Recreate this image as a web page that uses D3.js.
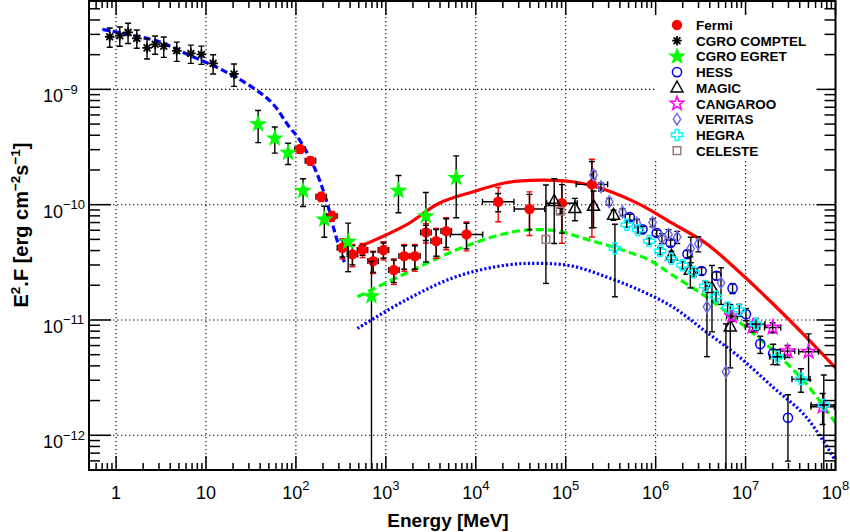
<!DOCTYPE html>
<html>
<head>
<meta charset="utf-8">
<script src="https://cdn.jsdelivr.net/npm/d3@7"></script>
<style>
body { margin: 0; background: #fff; }
text { font-family: "Liberation Sans", Arial, Helvetica, sans-serif; }
</style>
</head>
<body>
<div id="wrapper"></div>
<script>
// ---- data (energy in MeV, E^2.F in erg cm^-2 s^-1) ----
const fermiE = [111, 145, 191, 251, 329, 425, 550, 722, 940, 1227, 1599, 2102, 2786, 3627, 4688, 7882, 17750, 39550, 90800, 195500];
const fermiF = [3.03e-10, 2.40e-10, 1.17e-10, 7.96e-11, 4.23e-11, 3.71e-11, 4.04e-11, 3.24e-11, 4.04e-11, 2.71e-11, 3.58e-11, 3.58e-11, 5.75e-11, 4.83e-11, 5.90e-11, 5.52e-11, 1.06e-10, 9.16e-11, 1.03e-10, 1.50e-10];
const fermiStat = [0.05, 0.05, 0.06, 0.07, 0.17, 0.19, 0.1, 0.2, 0.15, 0.22, 0.23, 0.23, 0.15, 0.26, 0.28, 0.25, 0.18, 0.34, 0.45, 0.58];
const fermiSys = [0.08, 0.08, 0.09, 0.1, 0.2, 0.22, 0.14, 0.22, 0.18, 0.25, 0.26, 0.26, 0.19, 0.29, 0.31, 0.28, 0.33, 0.41, 0.55, 0.65];
const fermiBin = [0.058, 0.058, 0.058, 0.058, 0.058, 0.058, 0.058, 0.058, 0.058, 0.058, 0.058, 0.058, 0.058, 0.058, 0.058, 0.18, 0.175, 0.17, 0.17, 0.175];

const comptelE = [0.85, 1.10, 1.36, 1.70, 2.21, 2.72, 3.39, 4.73, 6.78, 8.89, 12.0, 20.5];
const comptelF = [2.86e-9, 2.92e-9, 3.12e-9, 2.77e-9, 2.29e-9, 2.46e-9, 2.37e-9, 2.16e-9, 2.05e-9, 2.01e-9, 1.68e-9, 1.36e-9];
const comptelErr = [0.19, 0.19, 0.2, 0.18, 0.2, 0.18, 0.2, 0.19, 0.18, 0.18, 0.19, 0.22];

const egretE = [38.0, 58.2, 81.9, 120, 207, 381, 692, 1381, 2786, 6054];
const egretF = [5.0e-10, 3.76e-10, 2.82e-10, 1.32e-10, 7.45e-11, 4.77e-11, 1.61e-11, 1.32e-10, 7.96e-11, 1.71e-10];
const egretErr = [0.31, 0.255, 0.21, 0.27, 0.3, 0.45, 1.0, 0.355, 0.6, 0.55];

const hessE = [5.15e5, 7.14e5, 1.028e6, 1.465e6, 2.26e6, 3.24e6, 4.76e6, 7.17e6, 1.01e7, 1.456e7, 2.03e7, 2.96e7];
const hessF = [7.80e-11, 6.11e-11, 5.68e-11, 4.65e-11, 3.73e-11, 2.66e-11, 2.42e-11, 1.88e-11, 1.12e-11, 6.18e-12, 5.13e-12, 1.42e-12];
const hessErr = [0.06, 0.06, 0.06, 0.06, 0.07, 0.07, 0.08, 0.1, 0.12, 0.17, 0.2, 0.58];

const magicE = [74500, 126600, 203900, 340500, 1.50e6, 2.43e6, 4.23e6, 6.76e6];
const magicF = [1.07e-10, 9.29e-11, 9.72e-11, 8.13e-11, 3.58e-11, 2.71e-11, 1.88e-11, 8.73e-12];
const magicErr = [0.57, 0.22, 0.35, 0.1, 0.1, 0.3, 0.58, 0.56];

const cangarooE = [7.06e6, 1.197e7, 2.0e7, 2.93e7, 5.02e7, 7.19e7];
const cangarooF = [1.08e-11, 8.73e-12, 8.6e-12, 5.37e-12, 5.30e-12, 1.77e-12];
const cangarooErr = [0.1, 0.1, 0.1, 0.12, 0.43, 0.3];
const cangarooBin = [0.06, 0.08, 0.09, 0.08, 0.11, 0.13];

const veritasE = [2.039e5, 2.465e5, 3.048e5, 4.284e5, 6.19e5, 9.24e5, 1.175e6, 1.39e6, 1.74e6, 2.46e6, 2.98e6, 3.72e6, 5.33e6, 6.05e6];
const veritasF = [1.81e-10, 1.43e-10, 1.06e-10, 8.63e-11, 6.92e-11, 7.0e-11, 5.1e-11, 5.52e-11, 5.24e-11, 4.18e-11, 4.58e-11, 1.30e-11, 2.10e-11, 3.56e-12];
const veritasErr = [0.08, 0.08, 0.07, 0.07, 0.08, 0.08, 0.1, 0.1, 0.12, 0.25, 0.15, 0.63, 0.35, [1, 1.6]];

const hegraE = [3.526e5, 4.77e5, 6.35e5, 8.49e5, 1.125e6, 1.491e6, 1.99e6, 2.65e6, 3.56e6, 4.69e6, 6.31e6, 8.5e6, 1.306e7, 2.25e7, 4.13e7, 7.41e7];
const hegraF = [4.18e-11, 6.70e-11, 6.03e-11, 4.83e-11, 3.96e-11, 3.40e-11, 2.99e-11, 2.59e-11, 1.97e-11, 1.59e-11, 1.28e-11, 1.22e-11, 9.21e-12, 4.80e-12, 3.07e-12, 1.83e-12];
const hegraErr = [0.62, 0.05, 0.06, 0.06, 0.07, 0.07, 0.07, 0.08, 0.1, 0.1, 0.1, 0.12, 0.12, 0.15, 0.23, [1, 0.82]];
const hegraBin = [0, 0, 0, 0, 0, 0, 0, 0, 0, 0, 0, 0, 0.1, 0.083, 0.1, 0.14];

const celesteE = [60250, 86900];
const celesteF = [5.0e-11, 8.8e-11];
const celesteErr = [[0.585, 1.96], 0.06];

// model curves
const syncE = [0.705, 1.175, 3.01, 6.49, 14.0, 32.8, 54.8, 84.0, 104, 146.6, 189, 234, 266, 302, 352];
const syncF = [3.31e-9, 3.06e-9, 2.59e-9, 1.98e-9, 1.52e-9, 1.04e-9, 7.57e-10, 4.74e-10, 3.88e-10, 2.44e-10, 1.53e-10, 8.97e-11, 6.03e-11, 4.32e-11, 3.05e-11];
const icRedE = [500, 1669, 3917, 9190, 21600, 50700, 119000, 280000, 657000, 1.54e6, 3.63e6, 8.46e6, 2.0e7, 4.69e7, 1e8];
const icRedF = [4.3e-11, 6.65e-11, 1.03e-10, 1.29e-10, 1.55e-10, 1.63e-10, 1.58e-10, 1.34e-10, 1.01e-10, 6.88e-11, 4.62e-11, 2.62e-11, 1.39e-11, 7.15e-12, 3.85e-12];
const icGreenE = [483, 1669, 6010, 18200, 36100, 77800, 182500, 428000, 849000, 1.54e6, 3.63e6, 8.46e6, 2.0e7, 4.69e7, 1e8];
const icGreenF = [1.59e-11, 2.54e-11, 4.04e-11, 5.45e-11, 6.02e-11, 5.94e-11, 4.93e-11, 4.04e-11, 3.31e-11, 2.45e-11, 1.59e-11, 9.65e-12, 5.48e-12, 2.82e-12, 1.28e-12];
const icBlueE = [483, 1669, 6010, 21600, 50700, 119000, 280000, 657000, 1.54e6, 3.63e6, 8.46e6, 2.0e7, 4.69e7, 1e8];
const icBlueF = [8.45e-12, 1.49e-11, 2.37e-11, 2.99e-11, 3.10e-11, 2.93e-11, 2.37e-11, 1.82e-11, 1.30e-11, 7.90e-12, 4.80e-12, 2.63e-12, 1.45e-12, 6.0e-13];

const xDecades = [0, 1, 2, 3, 4, 5, 6, 7, 8];
const yDecades = [-12, -11, -10, -9];

// ---- layout ----
const dim = { width: 850, height: 532, left: 89, right: 835.5, top: 1, bottom: 470 };

const svg = d3.select("#wrapper").append("svg")
    .attr("width", dim.width)
    .attr("height", dim.height);

const x = d3.scaleLog().domain([0.5, 1e8]).range([dim.left, dim.right]);
const y = d3.scaleLog().domain([5e-13, 5.84e-9]).range([dim.bottom, dim.top]);

svg.append("defs").append("clipPath").attr("id", "plotclip")
    .append("rect")
    .attr("x", dim.left).attr("y", dim.top)
    .attr("width", dim.right - dim.left).attr("height", dim.bottom - dim.top);

// grid
const grid = svg.append("g").attr("stroke", "#000").attr("stroke-width", 1.1).attr("stroke-dasharray", "1.3,2.7");
xDecades.filter(d => d < 8).forEach(d => {
    grid.append("line")
        .attr("x1", x(Math.pow(10, d))).attr("x2", x(Math.pow(10, d)))
        .attr("y1", dim.top).attr("y2", dim.bottom);
});
yDecades.forEach(d => {
    grid.append("line")
        .attr("x1", dim.left).attr("x2", dim.right)
        .attr("y1", y(Math.pow(10, d))).attr("y2", y(Math.pow(10, d)));
});

// model curves
const curves = svg.append("g").attr("clip-path", "url(#plotclip)").attr("fill", "none");
const line = d3.line().x(d => x(d[0])).y(d => y(d[1])).curve(d3.curveCatmullRom);
const model = [
    { E: syncE, F: syncF, color: "#0000ff", dash: "7,3.5" },
    { E: icRedE, F: icRedF, color: "#ff0000", dash: null },
    { E: icGreenE, F: icGreenF, color: "#00ff00", dash: "8,4" },
    { E: icBlueE, F: icBlueF, color: "#0000ff", dash: "2.2,2.2" }
];
model.forEach(m => {
    curves.append("path")
        .attr("d", line(m.E.map((e, i) => [e, m.F[i]])))
        .attr("stroke", m.color)
        .attr("stroke-width", 3.2)
        .attr("stroke-dasharray", m.dash);
});

// marker shapes
function star(R, r) {
    let p = [];
    for (let k = 0; k < 10; k++) {
        const a = -Math.PI / 2 + k * Math.PI / 5;
        const rr = k % 2 === 0 ? R : r;
        p.push([rr * Math.cos(a), rr * Math.sin(a)]);
    }
    return "M" + p.map(q => q[0].toFixed(2) + "," + q[1].toFixed(2)).join("L") + "Z";
}
const shapes = {
    circle: "M5.2,0A5.2,5.2 0 1,1 -5.2,0A5.2,5.2 0 1,1 5.2,0Z",
    ocircle: "M4.6,0A4.6,4.6 0 1,1 -4.6,0A4.6,4.6 0 1,1 4.6,0Z",
    asterisk: "M-4.8,0H4.8M0,-4.8V4.8M-3.4,-3.4L3.4,3.4M-3.4,3.4L3.4,-3.4",
    star: star(7.2, 2.9),
    triangle: "M0,-6.8L6,4.2L-6,4.2Z",
    diamond: "M0,-5.8L3.7,0L0,5.8L-3.7,0Z",
    cross: "M-1.8,-5.5H1.8V-1.8H5.5V1.8H1.8V5.5H-1.8V1.8H-5.5V-1.8H-1.8Z",
    square: "M-3.8,-3.8H3.8V3.8H-3.8Z"
};

const series = [
    { name: "Fermi", E: fermiE, F: fermiF, err: fermiStat, sys: fermiSys, bin: fermiBin, shape: "circle", color: "#ff0000", fill: true },
    { name: "CGRO COMPTEL", E: comptelE, F: comptelF, err: comptelErr, shape: "asterisk", color: "#000000", fill: false },
    { name: "CGRO EGRET", E: egretE, F: egretF, err: egretErr, shape: "star", color: "#00ff00", fill: true },
    { name: "HESS", E: hessE, F: hessF, err: hessErr, shape: "ocircle", color: "#0000ff", fill: false },
    { name: "MAGIC", E: magicE, F: magicF, err: magicErr, shape: "triangle", color: "#000000", fill: false },
    { name: "CANGAROO", E: cangarooE, F: cangarooF, err: cangarooErr, bin: cangarooBin, shape: "star", color: "#ff00ff", fill: false },
    { name: "VERITAS", E: veritasE, F: veritasF, err: veritasErr, shape: "diamond", color: "#6f6fee", fill: false },
    { name: "HEGRA", E: hegraE, F: hegraF, err: hegraErr, bin: hegraBin, shape: "cross", color: "#00ffff", fill: false },
    { name: "CELESTE", E: celesteE, F: celesteF, err: celesteErr, shape: "square", color: "#a07878", fill: false }
];

const cap = 3;
function vBar(g, e, f, er, color) {
    const lo = Array.isArray(er) ? er[0] : er;
    const hi = Array.isArray(er) ? er[1] : er;
    const px = x(e);
    const top = y(f * (1 + hi));
    const low = f * (1 - lo);
    const bot = low > 5e-13 ? y(low) : dim.bottom;
    g.append("line").attr("x1", px).attr("x2", px).attr("y1", top).attr("y2", bot).attr("stroke", color);
    g.append("line").attr("x1", px - cap).attr("x2", px + cap).attr("y1", top).attr("y2", top).attr("stroke", color);
    if (low > 5e-13) {
        g.append("line").attr("x1", px - cap).attr("x2", px + cap).attr("y1", bot).attr("y2", bot).attr("stroke", color);
    }
}
function hBar(g, e, f, b) {
    if (!b) return;
    const py = y(f);
    const x0 = x(e / Math.pow(10, b)), x1 = x(e * Math.pow(10, b));
    g.append("line").attr("x1", x0).attr("x2", x1).attr("y1", py).attr("y2", py).attr("stroke", "#000");
    [x0, x1].forEach(xx => {
        g.append("line").attr("x1", xx).attr("x2", xx).attr("y1", py - cap).attr("y2", py + cap).attr("stroke", "#000");
    });
}

const points = svg.append("g").attr("clip-path", "url(#plotclip)");
series.forEach(s => {
    const g = points.append("g").attr("stroke-width", 1.4);
    s.E.forEach((e, i) => {
        if (s.sys) vBar(g, e, s.F[i], s.sys[i], "#ff0000");
        vBar(g, e, s.F[i], s.err[i], "#000");
        if (s.bin) hBar(g, e, s.F[i], s.bin[i]);
    });
    g.selectAll("path.mk")
        .data(s.E.map((e, i) => [e, s.F[i]]))
        .enter()
        .append("path")
        .attr("class", "mk")
        .attr("d", shapes[s.shape])
        .attr("transform", d => `translate(${x(d[0])},${y(d[1])})`)
        .attr("fill", s.fill ? s.color : "none")
        .attr("stroke", s.fill && s.shape === "circle" ? "none" : s.color)
        .attr("stroke-width", s.shape === "asterisk" ? 1.8 : 1.5);
});

// legend
const legend = svg.append("g");
legend.append("rect")
    .attr("x", 655).attr("y", 7).attr("width", 172).attr("height", 153)
    .attr("fill", "#fff");
series.forEach((s, i) => {
    const ly = 25 + i * 15.7;
    legend.append("path")
        .attr("d", shapes[s.shape])
        .attr("transform", `translate(677,${ly})`)
        .attr("fill", s.fill ? s.color : "none")
        .attr("stroke", s.fill && s.shape === "circle" ? "none" : s.color)
        .attr("stroke-width", s.shape === "asterisk" ? 1.8 : 1.5);
    legend.append("text")
        .attr("x", 696).attr("y", ly + 5)
        .attr("font-size", 13.5).attr("font-weight", "bold")
        .text(s.name);
});

// frame and ticks
const axes = svg.append("g").attr("stroke", "#000");
axes.append("rect")
    .attr("x", dim.left).attr("y", dim.top)
    .attr("width", dim.right - dim.left).attr("height", dim.bottom - dim.top)
    .attr("fill", "none").attr("stroke-width", 2);

for (let d = -1; d <= 8; d++) {
    for (let k = 1; k <= 9; k++) {
        const v = k * Math.pow(10, d);
        if (v < 0.5 || v > 1e8) continue;
        const len = k === 1 ? 14 : 7;
        const px = x(v);
        axes.append("line").attr("x1", px).attr("x2", px).attr("y1", dim.bottom).attr("y2", dim.bottom - len).attr("stroke-width", 1.5);
        axes.append("line").attr("x1", px).attr("x2", px).attr("y1", dim.top).attr("y2", dim.top + len).attr("stroke-width", 1.5);
    }
}
for (let d = -13; d <= -9; d++) {
    for (let k = 1; k <= 9; k++) {
        const v = k * Math.pow(10, d);
        if (v < 5e-13 || v > 5.84e-9) continue;
        const py = y(v);
        axes.append("line").attr("x1", dim.left).attr("x2", dim.left + (k === 1 ? 22 : 11)).attr("y1", py).attr("y2", py).attr("stroke-width", 1.5);
        axes.append("line").attr("x1", dim.right).attr("x2", dim.right - (k === 1 ? 19 : 11)).attr("y1", py).attr("y2", py).attr("stroke-width", 1.5);
    }
}

// tick labels
const labels = svg.append("g").attr("fill", "#000");
xDecades.forEach(d => {
    const t = labels.append("text")
        .attr("x", x(Math.pow(10, d)))
        .attr("y", 499)
        .attr("text-anchor", "middle")
        .attr("font-size", 18);
    if (d === 0) t.text("1");
    else if (d === 1) t.text("10");
    else {
        t.append("tspan").text("10");
        t.append("tspan").attr("dy", -9).attr("font-size", 13).text(d);
    }
});
yDecades.forEach(d => {
    const py = y(Math.pow(10, d));
    labels.append("text")
        .attr("x", 63).attr("y", py + 13)
        .attr("text-anchor", "end").attr("font-size", 18)
        .text("10");
    labels.append("text")
        .attr("x", 63).attr("y", py + 4.5)
        .attr("text-anchor", "start").attr("font-size", 13)
        .text("\u2212" + Math.abs(d));
});

// axis titles
labels.append("text")
    .attr("x", 448).attr("y", 527)
    .attr("text-anchor", "middle")
    .attr("font-size", 19).attr("font-weight", "bold")
    .text("Energy [MeV]");

const yt = labels.append("text")
    .attr("transform", "translate(28,225) rotate(-90)")
    .attr("text-anchor", "middle")
    .attr("font-size", 20).attr("font-weight", "bold");
yt.append("tspan").text("E");
yt.append("tspan").attr("dy", -8).attr("font-size", 13.5).text("2");
yt.append("tspan").attr("dy", 8).text(".F [erg cm");
yt.append("tspan").attr("dy", -8).attr("font-size", 13.5).text("\u22122");
yt.append("tspan").attr("dy", 8).text("s");
yt.append("tspan").attr("dy", -8).attr("font-size", 13.5).text("\u22121");
yt.append("tspan").attr("dy", 8).text("]");
</script>
</body>
</html>
